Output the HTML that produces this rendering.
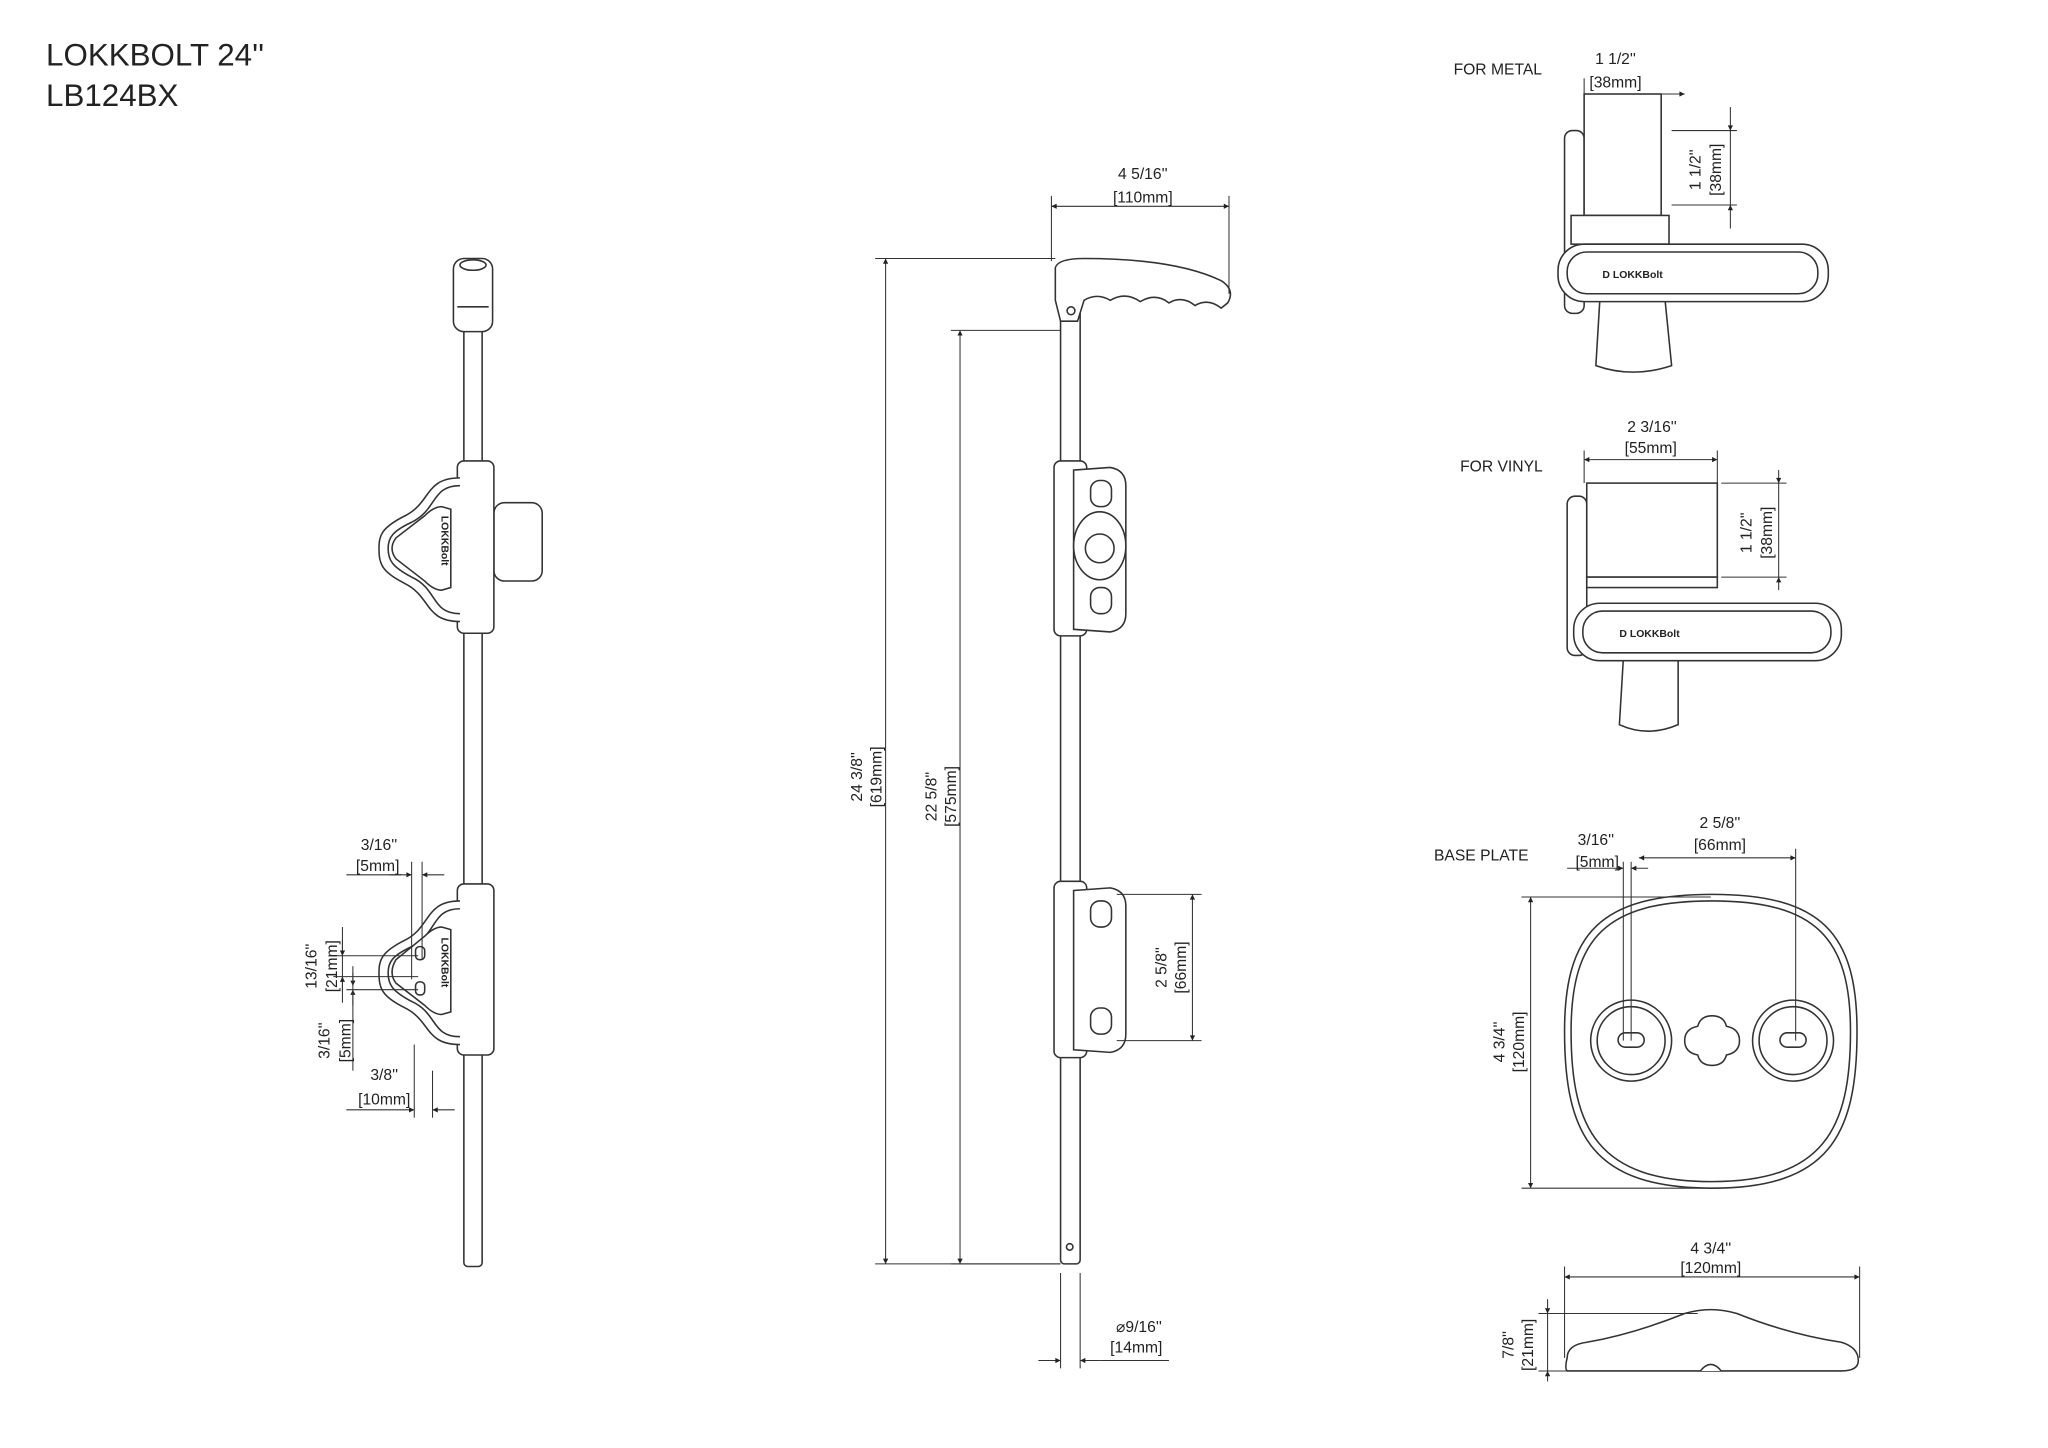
<!DOCTYPE html>
<html><head><meta charset="utf-8"><style>
html,body{margin:0;padding:0;background:#fff;width:2048px;height:1448px;overflow:hidden}
svg{display:block}
text{font-family:"Liberation Sans",sans-serif;fill:#222}
</style></head><body>
<svg width="2048" height="1448" viewBox="0 0 1568 1109" xmlns="http://www.w3.org/2000/svg">
<defs>
<marker id="a" viewBox="0 0 10 10" refX="10" refY="5" markerWidth="7" markerHeight="5" orient="auto-start-reverse"><path d="M0,0L10,5L0,10z" fill="#222"/></marker>
</defs>
<g font-size="24"><text x="35" y="50">LOKKBOLT 24''</text><text x="35" y="81">LB124BX</text></g>

<g fill="#fff" stroke="#333" stroke-width="1.2">
<!-- LEFT assembly -->
<rect x="355" y="245" width="14" height="725" rx="3"/>
<rect x="347" y="198" width="30" height="56" rx="8"/>
<ellipse cx="362" cy="203" rx="10" ry="4"/>
<line x1="350" y1="235" x2="374" y2="235"/>
<rect x="378" y="385" width="37" height="60" rx="8"/>
<rect x="350" y="353" width="28" height="132" rx="5"/>
<path d="M352,366 C325,366 330,385 310,395 C292,404 290,410 290,420 C290,432 292,438 310,447 C330,457 325,476 352,476"/>
<path d="M352,372 C330,372 335,390 315,400 C300,407 297,412 297,420 C297,429 300,434 315,442 C335,451 330,470 352,470"/>
<path d="M345,390 L338,388 Q332,388 325,395 L303,412 Q297,420 303,428 L325,445 Q332,452 338,452 L345,450z"/>
<rect x="350" y="677" width="28" height="131" rx="5"/>
<path d="M352,690 C325,690 330,710 310,720 C292,729 290,735 290,745 C290,757 292,763 310,772 C330,782 325,800 352,800"/>
<path d="M352,696 C330,696 335,715 315,725 C300,732 297,737 297,745 C297,754 300,759 315,767 C335,776 330,794 352,794"/>
<path d="M345,712 L338,710 Q332,710 325,717 L303,735 Q297,745 303,753 L325,770 Q332,777 338,777 L345,775z"/>
<rect x="318" y="725" width="7" height="10" rx="3"/><rect x="318" y="752" width="7" height="10" rx="3"/>

<!-- MIDDLE assembly -->
<rect x="812" y="236" width="15" height="732" rx="3"/>
<circle cx="819" cy="955" r="2.5"/>
<path d="M808,205 Q810,198 830,198 Q900,198 935,215 Q946,222 940,232 L935,236 Q925,228 915,234 Q905,226 895,232 Q885,224 873,231 Q862,223 850,230 Q840,224 830,230 L825,246 L812,246 L808,230z"/>
<circle cx="820" cy="238" r="3"/>
<rect x="807" y="353" width="25" height="134" rx="5"/>
<path d="M822,360 L850,358 Q862,360 862,372 L862,470 Q862,482 850,484 L822,482z"/>
<rect x="835" y="368" width="16" height="20" rx="7"/>
<rect x="835" y="450" width="16" height="20" rx="7"/>
<ellipse cx="842" cy="418" rx="20" ry="26"/>
<circle cx="842" cy="420" r="11"/>
<rect x="807" y="675" width="25" height="135" rx="5"/>
<path d="M822,682 L850,680 Q862,682 862,694 L862,792 Q862,804 850,806 L822,804z"/>
<rect x="835" y="690" width="16" height="20" rx="7"/>
<rect x="835" y="772" width="16" height="20" rx="7"/>

<!-- FOR METAL -->
<rect x="1198" y="100" width="15" height="140" rx="6"/>
<rect x="1213" y="72" width="59" height="93"/>
<rect x="1203" y="165" width="75" height="22"/>
<path d="M1225,230 L1275,230 L1280,280 Q1250,290 1222,280z"/>
<rect x="1193" y="187" width="207" height="44" rx="20"/>
<rect x="1200" y="193" width="192" height="32" rx="15"/>
<!-- FOR VINYL -->
<rect x="1200" y="380" width="15" height="122" rx="6"/>
<rect x="1215" y="370" width="100" height="72"/>
<rect x="1215" y="442" width="100" height="8"/>
<path d="M1243,505 L1285,505 L1285,555 Q1262,565 1240,555z"/>
<rect x="1205" y="462" width="205" height="44" rx="20"/>
<rect x="1212" y="468" width="190" height="32" rx="15"/>
<!-- BASE PLATE -->
<path d="M1311,685 C1395,685 1422,715 1422,790 C1422,870 1400,910 1311,910 C1220,910 1198,870 1198,790 C1198,715 1225,685 1311,685z"/>
<path d="M1311,690 C1390,690 1417,718 1417,790 C1417,865 1396,905 1311,905 C1224,905 1203,865 1203,790 C1203,718 1230,690 1311,690z"/>
<circle cx="1249" cy="797" r="31"/><circle cx="1249" cy="797" r="26"/>
<rect x="1239" y="791" width="20" height="11" rx="5.5"/>
<circle cx="1373" cy="797" r="31"/><circle cx="1373" cy="797" r="26"/>
<rect x="1363" y="791" width="20" height="11" rx="5.5"/>
<path d="M1311,778 Q1320,778 1322,786 Q1332,788 1332,797 Q1332,806 1322,808 Q1320,816 1311,816 Q1302,816 1300,808 Q1290,806 1290,797 Q1290,788 1300,786 Q1302,778 1311,778z"/>
<path d="M1200,1040 Q1200,1030 1215,1028 Q1250,1022 1290,1006 Q1310,1000 1330,1006 Q1370,1022 1410,1028 Q1423,1032 1423,1042 Q1423,1050 1410,1050 L1200,1050 Q1198,1048 1200,1040z"/>
<path d="M1302,1050 Q1310,1040 1318,1050"/>
</g>
<g font-size="8" font-weight="bold" fill="#222">
<text x="1227" y="213">D  LOKKBolt</text><text x="1240" y="488">D  LOKKBolt</text>
<text transform="translate(338,395) rotate(90)">LOKKBolt</text>
<text transform="translate(338,718) rotate(90)">LOKKBolt</text>
</g>

<!-- DIMENSIONS -->
<g stroke="#333" stroke-width="0.8" fill="none">
<line x1="678" y1="198" x2="678" y2="968" marker-start="url(#a)" marker-end="url(#a)"/>
<line x1="670" y1="198" x2="808" y2="198"/><line x1="670" y1="968" x2="812" y2="968"/>
<line x1="735" y1="253" x2="735" y2="968" marker-start="url(#a)" marker-end="url(#a)"/>
<line x1="728" y1="253" x2="812" y2="253"/><line x1="728" y1="968" x2="812" y2="968"/>
<line x1="805" y1="158" x2="941" y2="158" marker-start="url(#a)" marker-end="url(#a)"/>
<line x1="805" y1="150" x2="805" y2="200"/><line x1="941" y1="150" x2="941" y2="225"/>
<line x1="913" y1="685" x2="913" y2="797" marker-start="url(#a)" marker-end="url(#a)"/>
<line x1="855" y1="685" x2="920" y2="685"/><line x1="855" y1="797" x2="920" y2="797"/>
<line x1="795" y1="1042" x2="812" y2="1042" marker-end="url(#a)"/><line x1="842" y1="1042" x2="827" y2="1042" marker-end="url(#a)"/>
<line x1="812" y1="975" x2="812" y2="1048"/><line x1="827" y1="975" x2="827" y2="1048"/>
<line x1="842" y1="1042" x2="895" y2="1042"/>
<!-- left dims -->
<line x1="265" y1="670" x2="307" y2="670"/><line x1="298" y1="670" x2="315" y2="670" marker-end="url(#a)"/>
<line x1="340" y1="670" x2="323" y2="670" marker-end="url(#a)"/>
<line x1="315" y1="660" x2="315" y2="750"/><line x1="323" y1="660" x2="323" y2="735"/>
<line x1="262" y1="710" x2="262" y2="768"/>
<line x1="262" y1="720" x2="262" y2="732" marker-end="url(#a)"/><line x1="262" y1="760" x2="262" y2="748" marker-end="url(#a)"/>
<line x1="255" y1="732" x2="320" y2="732"/><line x1="255" y1="748" x2="320" y2="748"/>
<line x1="270" y1="745" x2="270" y2="755" marker-end="url(#a)"/><line x1="270" y1="770" x2="270" y2="758" marker-end="url(#a)"/>
<line x1="270" y1="740" x2="270" y2="820"/><line x1="265" y1="758" x2="320" y2="758"/>
<line x1="265" y1="850" x2="317" y2="850" marker-end="url(#a)"/><line x1="348" y1="850" x2="331" y2="850" marker-end="url(#a)"/>
<line x1="317" y1="800" x2="317" y2="856"/><line x1="331" y1="820" x2="331" y2="856"/>
<!-- metal dims -->
<line x1="1213" y1="72" x2="1290" y2="72" marker-end="url(#a)"/><line x1="1213" y1="60" x2="1213" y2="72"/>
<line x1="1272" y1="72" x2="1272" y2="160"/>
<line x1="1325" y1="82" x2="1325" y2="100" marker-end="url(#a)"/><line x1="1325" y1="175" x2="1325" y2="157" marker-end="url(#a)"/>
<line x1="1325" y1="100" x2="1325" y2="157"/>
<line x1="1280" y1="100" x2="1330" y2="100"/><line x1="1280" y1="157" x2="1330" y2="157"/>
<!-- vinyl dims -->
<line x1="1213" y1="352" x2="1315" y2="352" marker-start="url(#a)" marker-end="url(#a)"/>
<line x1="1213" y1="345" x2="1213" y2="370"/><line x1="1315" y1="345" x2="1315" y2="370"/>
<line x1="1362" y1="360" x2="1362" y2="370" marker-end="url(#a)"/><line x1="1362" y1="452" x2="1362" y2="442" marker-end="url(#a)"/>
<line x1="1362" y1="370" x2="1362" y2="442"/>
<line x1="1318" y1="370" x2="1368" y2="370"/><line x1="1318" y1="442" x2="1368" y2="442"/>
<!-- base dims -->
<line x1="1200" y1="665" x2="1243" y2="665" marker-end="url(#a)"/><line x1="1262" y1="665" x2="1249" y2="665" marker-end="url(#a)"/>
<line x1="1255" y1="657" x2="1375" y2="657" marker-start="url(#a)" marker-end="url(#a)"/>
<line x1="1243" y1="660" x2="1243" y2="797"/><line x1="1249" y1="660" x2="1249" y2="797"/><line x1="1375" y1="650" x2="1375" y2="797"/>
<line x1="1172" y1="687" x2="1172" y2="910" marker-start="url(#a)" marker-end="url(#a)"/>
<line x1="1165" y1="687" x2="1310" y2="687"/><line x1="1165" y1="910" x2="1310" y2="910"/>
<line x1="1198" y1="978" x2="1424" y2="978" marker-start="url(#a)" marker-end="url(#a)"/>
<line x1="1198" y1="970" x2="1198" y2="1040"/><line x1="1424" y1="970" x2="1424" y2="1040"/>
<line x1="1185" y1="995" x2="1185" y2="1006" marker-end="url(#a)"/><line x1="1185" y1="1058" x2="1185" y2="1050" marker-end="url(#a)"/>
<line x1="1185" y1="1006" x2="1185" y2="1050"/>
<line x1="1178" y1="1006" x2="1300" y2="1006"/><line x1="1178" y1="1050" x2="1200" y2="1050"/>
</g>

<!-- Dimension text -->
<g font-size="12" text-anchor="middle">
<text x="875" y="137">4 5/16''</text><text x="875" y="155">[110mm]</text>
<text transform="translate(660,595) rotate(-90)">24 3/8''</text><text transform="translate(675,595) rotate(-90)">[619mm]</text>
<text transform="translate(717,610) rotate(-90)">22 5/8''</text><text transform="translate(732,610) rotate(-90)">[575mm]</text>
<text transform="translate(893,741) rotate(-90)">2 5/8''</text><text transform="translate(908,741) rotate(-90)">[66mm]</text>
<text x="872" y="1020">⌀9/16''</text><text x="870" y="1036">[14mm]</text>
<text x="290" y="651">3/16''</text><text x="289" y="667">[5mm]</text>
<text transform="translate(242,740) rotate(-90)">13/16''</text><text transform="translate(258,740) rotate(-90)">[21mm]</text>
<text transform="translate(252,797) rotate(-90)">3/16''</text><text transform="translate(268,797) rotate(-90)">[5mm]</text>
<text x="294" y="827">3/8''</text><text x="294" y="846">[10mm]</text>
<text x="1237" y="49">1 1/2''</text><text x="1237" y="67">[38mm]</text>
<text transform="translate(1302,130) rotate(-90)">1 1/2''</text><text transform="translate(1318,130) rotate(-90)">[38mm]</text>
<text x="1265" y="331">2 3/16''</text><text x="1264" y="347">[55mm]</text>
<text transform="translate(1341,408) rotate(-90)">1 1/2''</text><text transform="translate(1357,408) rotate(-90)">[38mm]</text>
<text x="1222" y="647">3/16''</text><text x="1223" y="664">[5mm]</text>
<text x="1317" y="634">2 5/8''</text><text x="1317" y="651">[66mm]</text>
<text transform="translate(1152,798) rotate(-90)">4 3/4''</text><text transform="translate(1167,798) rotate(-90)">[120mm]</text>
<text x="1310" y="960">4 3/4''</text><text x="1310" y="975">[120mm]</text>
<text transform="translate(1159,1030) rotate(-90)">7/8''</text><text transform="translate(1174,1030) rotate(-90)">[21mm]</text>
</g>
<g font-size="12"><text x="1113" y="57">FOR METAL</text><text x="1118" y="361">FOR VINYL</text><text x="1098" y="659">BASE PLATE</text></g>
</svg>
</body></html>
